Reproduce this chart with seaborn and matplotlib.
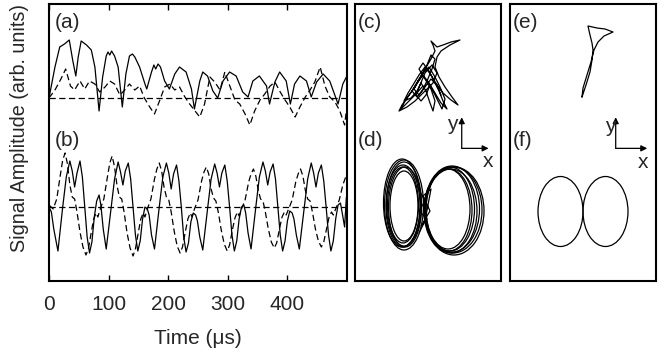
import numpy as np
import matplotlib
matplotlib.use("Agg")
import matplotlib.pyplot as plt
from matplotlib.patches import Ellipse
import seaborn as sns

# ---- (a) time traces: time in us, amplitude in arb. units (0 = baseline)
t_a_solid = [0, 10, 18, 26, 34, 40, 45, 49, 54, 63, 71, 77, 84, 90, 96, 99, 102, 105, 110,
             116, 123, 129, 135, 140, 144, 152, 161, 164, 172, 176, 179, 183, 187, 194, 202,
             211, 219, 230, 239, 244, 253, 258, 266, 275, 283, 292, 303, 314, 325, 334,
             342, 353, 365, 370, 379, 387, 398, 405, 412, 421, 432, 440, 449, 460, 471,
             485, 493, 499]
v_a_solid = [0, 31, 51, 54, 58, 37, 22, 41, 57, 53, 48, 31, -13, 21, 42, 46, 43, 47, 42,
             31, -9, 24, 42, 44, 41, 31, 14, 9, 26, 33, 29, 34, 31, 17, 9,
             24, 31, 26, 9, -11, 17, 26, 22, 7, 0, 17, 26, 22, 6, 1,
             17, 22, 12, -6, 16, 26, 17, -6, 14, 22, 17, 1, 16, 24, 17,
             -6, 14, 21]

t_a_dash = [0, 10, 20, 28, 36, 43, 52, 60, 68, 77, 85, 94, 102, 110, 119, 127, 135, 144,
            152, 160, 169, 177, 186, 194, 203, 211, 219, 228, 236, 245, 253, 261, 270,
            278, 287, 295, 304, 312, 320, 329, 337, 345, 354, 362, 371, 379, 388, 396,
            404, 413, 421, 430, 438, 446, 455, 463, 471, 480, 488, 496, 499]
v_a_dash = [0, 8, 19, 29, 12, 8, 17, 9, 17, 14, 6, 11, 17, 14, 3, 8, 14, 8,
            12, 0, -9, -16, -2, 11, 14, 8, 11, 1, -6, -13, -19, -6, 21,
            16, 8, 26, 11, -2, -6, -16, -27, -13, -2, 4, 12, 16, 6, -2,
            -9, -19, -9, 1, 8, 16, 31, 12, 1, -4, -13, -27, -12]

# ---- (b) time traces
t_b_solid = [0, 4, 8, 15,
             23, 29, 35, 39, 43, 47, 52, 56, 60, 64, 68, 72, 76, 80, 84, 87, 91, 96,
             104, 110, 116, 120, 124, 128, 133, 137, 141, 145, 149, 153, 157, 161, 165, 168, 172, 177,
             185, 191, 197, 201, 205, 209, 214, 218, 222, 226, 230, 234, 238, 242, 246, 249, 253, 258,
             266, 272, 278, 282, 286, 290, 295, 299, 303, 307, 311, 315, 319, 323, 327, 330, 334, 339,
             347, 353, 359, 363, 367, 371, 376, 380, 384, 388, 392, 396, 400, 404, 408, 411, 415, 420,
             428, 434, 440, 444, 448, 452, 457, 461, 465, 469, 473, 477, 481, 485, 489, 492, 496, 499]
v_b_solid = [0, -5, -22, -44,
             0, 30, 46, 36, 20, 34, 46, 30, 0, -30, -46, -35, -10, 6, 12, 2, -22, -42,
             -2, 28, 45, 35, 22, 36, 44, 28, 0, -28, -44, -34, -12, 0, -2, -8, -28, -42,
             0, 30, 44, 34, 18, 33, 42, 26, 0, -30, -45, -36, -15, -6, -8, -14, -30, -43,
             -2, 28, 43, 34, 20, 34, 42, 26, 0, -28, -44, -34, -12, 0, 2, -6, -26, -42,
             0, 30, 45, 36, 22, 35, 43, 28, 0, -28, -44, -34, -14, -4, -6, -12, -28, -42,
             -2, 28, 44, 34, 20, 34, 42, 26, 0, -28, -44, -34, -12, 2, 4, -6, -20, 10]

t_b_dash = [0,
            7, 13, 19, 23, 27, 31, 35, 39, 43, 47, 52, 57, 62, 66, 71, 75, 79, 82,
            86, 92, 98, 102, 106, 110, 114, 118, 122, 126, 131, 136, 141, 145, 150, 154, 158, 161,
            165, 171, 177, 181, 185, 189, 193, 197, 201, 205, 210, 215, 220, 224, 229, 233, 237, 240,
            244, 250, 256, 260, 264, 268, 272, 276, 280, 284, 289, 294, 299, 303, 308, 312, 316, 319,
            323, 329, 335, 339, 343, 347, 351, 355, 359, 363, 368, 373, 378, 382, 387, 391, 395, 398,
            402, 408, 414, 418, 422, 426, 430, 434, 438, 442, 447, 452, 457, 461, 466, 470, 474, 477,
            481, 487, 493, 499]
v_b_dash = [2,
            -2, 8, 32, 47, 54, 43, 22, 10, 8, -5, -25, -40, -48, -42, -25, -12, -6, -10,
            -2, 8, 30, 44, 51, 40, 22, 10, 8, -5, -26, -41, -49, -42, -25, -12, -6, -10,
            -2, 8, 28, 38, 44, 36, 20, 10, 7, -5, -24, -39, -46, -40, -24, -12, -6, -10,
            -2, 7, 26, 35, 40, 33, 18, 9, 6, -5, -23, -37, -44, -38, -22, -11, -5, -9,
            -2, 7, 25, 33, 38, 31, 17, 8, 6, -5, -22, -35, -41, -36, -21, -10, -5, -8,
            -2, 7, 25, 33, 38, 31, 17, 8, 6, -5, -22, -34, -40, -35, -21, -10, -5, -8,
            -2, 7, 22, 32]

# ---- (c) chaotic phase portrait (x, y in arb. units)
c_x = [68, 60, 52, 46, 50, 57, 63, 70, 76, 80, 78, 76, 82, 88, 96, 105, 95, 86, 82, 80,
       84, 90, 97, 103, 96, 88, 82, 76, 70, 64, 58, 53, 49, 56, 62, 66, 71, 75, 78, 80,
       76, 70, 64, 68, 74, 79, 84, 88, 92, 86, 80, 74, 68, 62, 57, 62, 67, 72, 77, 80,
       76, 72, 66, 60, 54, 47, 44, 52, 60, 66, 72, 78, 82, 77, 70, 65, 61, 66, 71, 75,
       79, 83, 87, 90, 85, 80, 74, 68, 63, 59, 64, 70, 76, 82, 86]
c_y = [195, 186, 178, 172, 180, 190, 200, 212, 222, 230, 236, 240, 234, 236, 239, 241, 236, 230, 224, 214,
       204, 194, 184, 176, 181, 188, 196, 206, 214, 206, 196, 188, 180, 183, 190, 198, 190, 178, 170, 180,
       192, 202, 212, 218, 210, 200, 190, 180, 172, 178, 188, 198, 206, 198, 190, 184, 190, 200, 212, 222,
       226, 216, 204, 194, 186, 176, 170, 174, 180, 186, 192, 198, 208, 216, 208, 196, 186, 180, 186, 196,
       188, 180, 172, 182, 194, 204, 214, 208, 200, 192, 186, 194, 202, 196, 186]

# ---- (d) experimental double-loop: loop centres, widths, heights
d_left_cx = [49, 48, 50, 49, 48, 47, 49]
d_left_cy = [75, 76, 74, 77, 75, 78, 76]
d_left_w = [28, 31, 33, 35, 34, 37, 39]
d_left_h = [70, 76, 80, 84, 82, 88, 90]
d_right_cx = [93, 94, 95, 96, 97, 98, 99]
d_right_cy = [72, 71, 72, 70, 72, 71, 70]
d_right_w = [44, 46, 49, 52, 55, 58, 60]
d_right_h = [80, 82, 84, 84, 86, 86, 88]
d_mid_x = [62, 70, 64, 72, 66, 75, 68, 76, 70, 64]
d_mid_y = [95, 80, 70, 62, 55, 70, 85, 92, 60, 48]

# ---- (e) simulated loop
e_x = [72, 73, 77, 81, 84, 88, 94, 103, 95, 87, 78, 80, 82, 83, 82, 80, 76, 72]
e_y = [184, 193, 206, 219, 231, 239, 245, 249, 252, 253, 255, 246, 238, 231, 221, 209, 196, 184]

# ---- (f) simulated double loop
f_cx = [50.5, 95.5]
f_cy = [69.5, 69.5]
f_w = [45, 45]
f_h = [70, 70]

sns.set_theme(style="white")
plt.rcParams["font.family"] = ["Liberation Sans", "DejaVu Sans"]
plt.rcParams["lines.scale_dashes"] = False
FS = 15
LW = 0.9
DASH = (0, (4.5, 2.5))

fig = plt.figure(figsize=(6.72, 3.56), dpi=100)
bottom, height = 75 / 356, 277.5 / 356
ax1 = fig.add_axes([49 / 672, bottom, 298 / 672, height])
ax2 = fig.add_axes([355 / 672, bottom, 146 / 672, height])
ax3 = fig.add_axes([510 / 672, bottom, 146 / 672, height])

off_a, off_b = 183, 74

# left panel: time series
sns.lineplot(x=t_a_solid, y=np.array(v_a_solid) + off_a, ax=ax1, color="black", lw=LW)
sns.lineplot(x=t_a_dash, y=np.array(v_a_dash) + off_a, ax=ax1, color="black", lw=LW, linestyle=DASH)
sns.lineplot(x=t_b_solid, y=np.array(v_b_solid) + off_b, ax=ax1, color="black", lw=LW)
sns.lineplot(x=t_b_dash, y=np.array(v_b_dash) + off_b, ax=ax1, color="black", lw=LW, linestyle=DASH)
ax1.axhline(off_a, color="black", lw=LW, linestyle=DASH)
ax1.axhline(off_b, color="black", lw=LW, linestyle=DASH)
ax1.set_xlim(0, 500)
ax1.set_ylim(0, 277.5)
ax1.set_xticks([0, 100, 200, 300, 400])
ax1.set_yticks([])
ax1.tick_params(axis="x", direction="in", top=True, bottom=True, length=4.5, width=1,
                labelsize=FS, pad=10, color="black")
ax1.set_xlabel("Time (\u03bcs)", fontsize=FS, labelpad=11)

# middle panel: experimental phase portraits
sns.lineplot(x=c_x, y=c_y, ax=ax2, color="black", lw=LW, sort=False, estimator=None)
for cx, cy, w, h in zip(d_left_cx + d_right_cx, d_left_cy + d_right_cy,
                        d_left_w + d_right_w, d_left_h + d_right_h):
    ax2.add_patch(Ellipse((cx, cy), w, h, fill=False, ec="black", lw=LW))
sns.lineplot(x=d_mid_x, y=d_mid_y, ax=ax2, color="black", lw=LW, sort=False, estimator=None)

# right panel: simulated phase portraits
sns.lineplot(x=e_x, y=e_y, ax=ax3, color="black", lw=LW, sort=False, estimator=None)
for cx, cy, w, h in zip(f_cx, f_cy, f_w, f_h):
    ax3.add_patch(Ellipse((cx, cy), w, h, fill=False, ec="black", lw=LW))

for ax in (ax2, ax3):
    ax.set_xlim(0, 146)
    ax.set_ylim(0, 277.5)
    ax.set_xticks([])
    ax.set_yticks([])

for ax in (ax1, ax2, ax3):
    for sp in ax.spines.values():
        sp.set_color("black")
        sp.set_linewidth(1.5)

# panel letters
for ax, top, bot in ((ax1, "(a)", "(b)"), (ax2, "(c)", "(d)"), (ax3, "(e)", "(f)")):
    ax.text(0.02, 0.965, top, transform=ax.transAxes, fontsize=FS, va="top", ha="left")
    ax.text(0.02, 0.54, bot, transform=ax.transAxes, fontsize=FS, va="top", ha="left")

# x/y direction indicators
for ax, ox, oy, ytop, xend, ylx, yly, xlx, xly in (
        (ax2, 0.731, 0.478, 0.59, 0.915, 0.664, 0.543, 0.908, 0.41),
        (ax3, 0.724, 0.478, 0.59, 0.94, 0.685, 0.536, 0.911, 0.406)):
    arrow = dict(arrowstyle="-|>", lw=0.9, color="black", mutation_scale=9, shrinkA=0, shrinkB=0)
    ax.annotate("", xy=(ox, ytop), xytext=(ox, oy), xycoords="axes fraction", arrowprops=arrow)
    ax.annotate("", xy=(xend, oy), xytext=(ox, oy), xycoords="axes fraction", arrowprops=arrow)
    ax.text(ylx, yly, "y", transform=ax.transAxes, fontsize=FS, ha="center", va="baseline")
    ax.text(xlx, xly, "x", transform=ax.transAxes, fontsize=FS, ha="center", va="baseline")

fig.text(20 / 672, 1 - 127.5 / 356, "Signal Amplitude (arb. units)", rotation=90,
         fontsize=14.2, ha="center", va="center")

fig.savefig("out.png", dpi=100)
